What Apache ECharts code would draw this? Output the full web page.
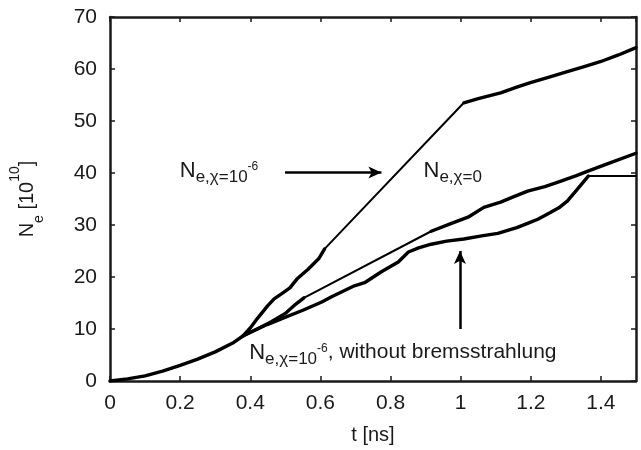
<!DOCTYPE html>
<html>
<head>
<meta charset="utf-8">
<script src="https://cdn.jsdelivr.net/npm/echarts@6/dist/echarts.min.js"></script>
<style>html,body{margin:0;padding:0;background:#fff}#c{width:641px;height:450px}</style>
</head>
<body>
<div id="c"></div>
<script>
// t [ns] vs N_e [10^10]
var xTicks = [0, 0.2, 0.4, 0.6, 0.8, 1, 1.2, 1.4];
var yTicks = [0, 10, 20, 30, 40, 50, 60, 70];

// common early growth + N_e,chi=1e-6 without bremsstrahlung (thick)
var noBremsThick = [[0,0],[0.05,0.4],[0.1,1.0],[0.15,1.9],[0.2,3.0],[0.25,4.2],[0.3,5.6],[0.35,7.3],[0.38,8.7],
  [0.42,10.0],[0.45,10.9],[0.49,12.0],[0.55,13.6],[0.604,15.2],[0.632,16.2],[0.66,17.1],[0.697,18.3],[0.726,18.9],
  [0.774,21.0],[0.822,22.9],[0.851,24.8],[0.88,25.6],[0.916,26.3],[0.96,26.9],[1.009,27.3],[1.06,27.9],[1.106,28.4],
  [1.16,29.5],[1.191,30.3],[1.22,31.1],[1.248,32.1],[1.28,33.3],[1.304,34.6],[1.333,36.9],[1.364,39.4]];
var noBremsThin = [[1.364,39.4],[1.5,39.4]];

// N_e,chi=1e-6
var chi6Thick1 = [[0.38,8.7],[0.40,10.2],[0.42,12.0],[0.45,14.5],[0.468,15.8],[0.49,16.8],[0.513,17.9],[0.533,19.6],
  [0.565,21.5],[0.595,23.5],[0.612,25.4]];
var chi6Thin = [[0.612,25.4],[1.009,53.5]];
var chi6Thick2 = [[1.009,53.5],[1.05,54.3],[1.114,55.4],[1.16,56.5],[1.199,57.4],[1.25,58.4],[1.304,59.5],
  [1.35,60.4],[1.398,61.4],[1.45,62.7],[1.5,64.1]];

// N_e,chi=0
var chi0Thick1 = [[0.38,8.7],[0.42,10.0],[0.46,11.4],[0.5,13.0],[0.53,14.8],[0.553,16.0]];
var chi0Thin = [[0.553,16.0],[0.916,28.8]];
var chi0Thick2 = [[0.916,28.8],[0.97,30.2],[1.021,31.5],[1.066,33.4],[1.114,34.4],[1.15,35.4],[1.191,36.5],
  [1.24,37.4],[1.284,38.4],[1.33,39.5],[1.361,40.3],[1.42,41.8],[1.5,43.8]];

// arrows (data coords)
var arrow1 = [[0.499,40.1],[0.774,40.1]];
var arrow2 = [[0.998,10.0],[0.998,25.0]];

var FONT = 'Liberation Sans';
var TXT = '#1a1a1a';
var chart = echarts.init(document.getElementById('c'), null, {renderer:'canvas'});

function line(data, w){
  return {type:'line', data:data, showSymbol:false, symbol:'none', xAxisIndex:0, yAxisIndex:0,
    lineStyle:{color:'#000', width:w, join:'round', cap:'round'}, animation:false, z:3};
}
function tickFmt(list){ return function(v){ for(var i=0;i<list.length;i++){ if(Math.abs(list[i]-v)<1e-6) return String(list[i]); } return ''; }; }

var axisLineStyle = {show:true, onZero:false, lineStyle:{color:'#1a1a1a', width:2.5}};
var tickStyle = {show:true, inside:true, length:5, lineStyle:{color:'#1a1a1a', width:1.5}};

var arrowSeries = function(a){
  return {type:'line', data:[], xAxisIndex:0, yAxisIndex:0, animation:false,
    markLine:{silent:true, symbol:['none','arrow'], symbolSize:[9,13], animation:false,
      lineStyle:{color:'#000', width:2.5, type:'solid'}, label:{show:false},
      data:[[{coord:a[0]},{coord:a[1]}]]}};
};

chart.setOption({
  animation:false,
  backgroundColor:'#fff',
  grid:{left:107, right:5, top:17, bottom:68},
  xAxis:[
    {type:'value', min:0, max:1.5, interval:0.2, position:'bottom',
     axisLine:axisLineStyle, axisTick:tickStyle, splitLine:{show:false},
     axisLabel:{color:TXT, fontFamily:FONT, fontSize:21, margin:12, formatter:tickFmt(xTicks), showMaxLabel:false},
     name:'t [ns]', nameLocation:'middle', nameGap:44, nameTextStyle:{color:TXT, fontFamily:FONT, fontSize:20}},
    {type:'value', min:0, max:1.5, interval:0.2, position:'top',
     axisLine:axisLineStyle, axisTick:tickStyle, splitLine:{show:false}, axisLabel:{show:false}}
  ],
  yAxis:[
    {type:'value', min:0, max:70, interval:10, position:'left',
     axisLine:axisLineStyle, axisTick:tickStyle, splitLine:{show:false},
     axisLabel:{color:TXT, fontFamily:FONT, fontSize:21, margin:13, formatter:tickFmt(yTicks)},
     name:'{n|N}{s|e}{n| [10}{p|10}{n|]}', nameLocation:'middle', nameRotate:90, nameGap:70,
     nameTextStyle:{color:TXT, fontFamily:FONT, rich:{
       n:{fontSize:20, fontFamily:FONT, color:TXT, lineHeight:26, verticalAlign:'middle'},
       s:{fontSize:14, fontFamily:FONT, color:TXT, lineHeight:14, verticalAlign:'bottom', padding:[0,0,-6,0]},
       p:{fontSize:14, fontFamily:FONT, color:TXT, lineHeight:14, verticalAlign:'top', padding:[-6,0,0,0]}
     }}},
    {type:'value', min:0, max:70, interval:10, position:'right',
     axisLine:axisLineStyle, axisTick:tickStyle, splitLine:{show:false}, axisLabel:{show:false}}
  ],
  series:[
    line(noBremsThick, 3.4), line(noBremsThin, 2),
    line(chi6Thick1, 3.4), line(chi6Thin, 2), line(chi6Thick2, 3.4),
    line(chi0Thick1, 3.4), line(chi0Thin, 2), line(chi0Thick2, 3.4),
    arrowSeries(arrow1), arrowSeries(arrow2)
  ]
});

var rich = {
  n:{fontSize:22, fontFamily:FONT, fill:TXT, lineHeight:32, verticalAlign:'middle'},
  s:{fontSize:17, fontFamily:FONT, fill:TXT, lineHeight:32, verticalAlign:'middle', padding:[13,0,0,0]},
  p:{fontSize:12, fontFamily:FONT, fill:TXT, lineHeight:32, verticalAlign:'middle', padding:[0,0,7,0]},
  t:{fontSize:21, fontFamily:FONT, fill:TXT, lineHeight:32, verticalAlign:'middle'}
};
function label(txt, at){
  var p = chart.convertToPixel({xAxisIndex:0, yAxisIndex:0}, at);
  return {type:'text', left:p[0], top:p[1]-16, silent:true, z:10,
    style:{text:txt, rich:rich, fontFamily:FONT, fill:TXT}};
}
chart.setOption({graphic:[
  label('{n|N}{s|e,χ=10}{p|-6}', [0.199, 40.3]),
  label('{n|N}{s|e,χ=0}', [0.894, 40.3]),
  label('{n|N}{s|e,χ=10}{p|-6}{t|, without bremsstrahlung}', [0.397, 5.3])
]});
</script>
</body>
</html>
